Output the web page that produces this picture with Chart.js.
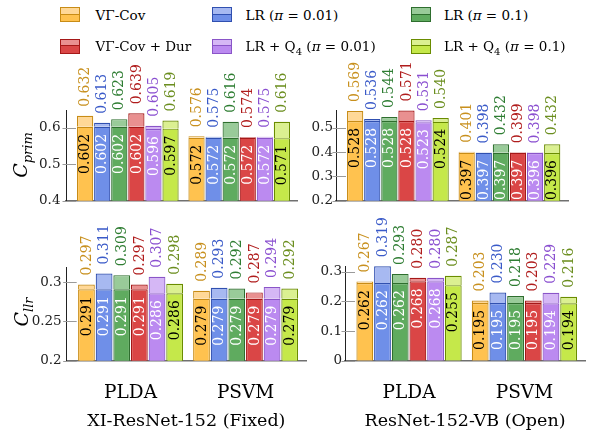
<!DOCTYPE html>
<html><head><meta charset="utf-8">
<script src="https://cdn.jsdelivr.net/npm/chart.js@4.4.1/dist/chart.umd.min.js"></script>
<style>
html,body{margin:0;padding:0;background:#fff;}
body{width:594px;height:436px;position:relative;overflow:hidden;font-family:"DejaVu Serif",serif;}
canvas{position:absolute;}
.sw{position:absolute;width:20px;height:15px;box-sizing:border-box;border:1px solid;}
.sw .t{height:50%;border-bottom:1px solid;box-sizing:border-box;}
.sw .b{height:50%;}
.lt{position:absolute;font-size:13.5px;line-height:20px;white-space:nowrap;color:#000;}
.lt sub{font-size:10px;line-height:0;}
.yt{position:absolute;transform:translate(-50%,-50%) rotate(-90deg);white-space:nowrap;font-style:italic;font-size:19px;line-height:22px;color:#000;}
.yt sub{font-size:13px;line-height:0;}
</style></head>
<body>
<canvas id="cTL"></canvas>
<canvas id="cTR"></canvas>
<canvas id="cBL"></canvas>
<canvas id="cBR"></canvas>
<div class="yt" style="left:20px;top:155px">C<sub>prim</sub></div>
<div class="yt" style="left:20.5px;top:312px">C<sub>llr</sub></div>
<div id="legend"></div>
<script>
// ---------- data ----------
const groups = ['PLDA', 'PSVM'];
const seriesNames = ['VΓ-Cov', 'LR (π = 0.01)', 'LR (π = 0.1)', 'VΓ-Cov + Dur', 'LR + Q4 (π = 0.01)', 'LR + Q4 (π = 0.1)'];
// each row: one series, [PLDA, PSVM]
const cprimFixedUpper = [[0.632,0.576],[0.613,0.575],[0.623,0.616],[0.639,0.574],[0.605,0.575],[0.619,0.616]];
const cprimFixedLower = [[0.602,0.572],[0.602,0.572],[0.602,0.572],[0.602,0.572],[0.596,0.572],[0.597,0.571]];
const cprimOpenUpper  = [[0.569,0.401],[0.536,0.398],[0.544,0.432],[0.571,0.399],[0.531,0.398],[0.540,0.432]];
const cprimOpenLower  = [[0.528,0.397],[0.528,0.397],[0.528,0.397],[0.528,0.397],[0.523,0.396],[0.524,0.396]];
const cllrFixedUpper  = [[0.297,0.289],[0.311,0.293],[0.309,0.292],[0.297,0.287],[0.307,0.294],[0.298,0.292]];
const cllrFixedLower  = [[0.291,0.279],[0.291,0.279],[0.291,0.279],[0.291,0.279],[0.286,0.279],[0.286,0.279]];
const cllrOpenUpper   = [[0.267,0.203],[0.319,0.230],[0.293,0.218],[0.280,0.203],[0.280,0.229],[0.287,0.216]];
const cllrOpenLower   = [[0.262,0.195],[0.262,0.195],[0.262,0.195],[0.268,0.195],[0.268,0.194],[0.255,0.194]];
const cprimFixedTicks = [0.4, 0.5, 0.6];
const cprimOpenTicks  = [0.2, 0.3, 0.4, 0.5];
const cllrFixedTicks  = [0.2, 0.25, 0.3];
const cllrOpenTicks   = [0, 0.1, 0.2, 0.3];
const panelTitles = ['XI-ResNet-152 (Fixed)', 'ResNet-152-VB (Open)'];

// ---------- styles ----------
const solidCol  = ['#ffc24f', '#6f8fe8', '#5fab5f', '#da4646', '#bb8af0', '#c5e84a'];
const lightCol  = ['#ffd897', '#a7b9f1', '#99cb99', '#e99090', '#d5b7f5', '#dbf091'];
const borderCol = ['#c88c16', '#3050b0', '#2e6e2e', '#a51818', '#8a55c8', '#6a8c00'];
const topLabCol = ['#c8901e', '#3a5ac8', '#2e7d32', '#b01c1c', '#8a4fd0', '#6b8e1f'];
const inLabCol  = ['#000', '#fff', '#fff', '#fff', '#fff', '#000'];

Chart.defaults.font.family = '"DejaVu Serif", serif';

// legend
(function(){
  const lg = document.getElementById('legend');
  const swX = [60, 212, 411], txX = [95.6, 245.6, 444], rowC = [14.5, 46];
  let html = '';
  for (let s = 0; s < 6; s++) {
    const r = Math.floor(s / 3), c = s % 3;
    html += '<div class="sw" style="left:' + swX[c] + 'px;top:' + (rowC[r] - 7.5) + 'px;border-color:' + borderCol[s] + '">' +
      '<div class="t" style="background:' + lightCol[s] + ';border-color:' + borderCol[s] + '"></div>' +
      '<div class="b" style="background:' + solidCol[s] + '"></div></div>';
    const name = seriesNames[s].replace('Q4', 'Q<sub>4</sub>').replace('π', '<i>π</i>');
    html += '<div class="lt" style="left:' + txX[c] + 'px;top:' + (rowC[r] - 10) + 'px">' + name + '</div>';
  }
  lg.innerHTML = html;
})();

const tickMarks = {
  id: 'tickMarks',
  beforeDatasetsDraw(chart) {
    const y = chart.scales.y, ctx = chart.ctx, x0 = chart.chartArea.left;
    ctx.save();
    ctx.strokeStyle = '#9a9a9a'; ctx.lineWidth = 1;
    y.ticks.forEach(t => {
      const py = Math.round(y.getPixelForValue(t.value)) + 0.5;
      ctx.beginPath(); ctx.moveTo(x0 - 3.5, py); ctx.lineTo(x0 + 10, py); ctx.stroke();
    });
    ctx.restore();
  }
};

function labelPlugin(upper, lower) {
  return {
    id: 'barLabels',
    afterDatasetsDraw(chart) {
      const ctx = chart.ctx, ys = chart.scales.y;
      ctx.save();
      ctx.font = '14px "DejaVu Serif"';
      ctx.textBaseline = 'middle';
      for (let s = 0; s < 6; s++) {
        const meta = chart.getDatasetMeta(2 * s);
        meta.data.forEach((bar, g) => {
          const hi = upper[s][g], lo = lower[s][g];
          const yHi = ys.getPixelForValue(hi), yLo = ys.getPixelForValue(lo);
          ctx.save();
          ctx.translate(bar.x, yHi - 9);
          ctx.rotate(-Math.PI / 2);
          ctx.textAlign = 'left';
          ctx.fillStyle = topLabCol[s];
          ctx.fillText(hi.toFixed(3), 0, 0.5);
          ctx.restore();
          ctx.save();
          ctx.translate(bar.x, yLo + 7);
          ctx.rotate(-Math.PI / 2);
          ctx.textAlign = 'right';
          ctx.fillStyle = inLabCol[s];
          ctx.fillText(lo.toFixed(3), 0, 0.5);
          ctx.restore();
        });
      }
      ctx.restore();
    }
  };
}

function makePanel(id, geo, upper, lower, ticks, o) {
  const cv = document.getElementById(id);
  cv.width = geo.w; cv.height = geo.h;
  cv.style.left = geo.x + 'px'; cv.style.top = geo.y + 'px';
  const datasets = [];
  for (let s = 0; s < 6; s++) {
    datasets.push({
      data: lower[s].map((v, g) => ({x: g, y: v})), stack: 's' + s,
      backgroundColor: solidCol[s], borderColor: borderCol[s], borderWidth: 1.2,
      clip: {left: false, right: false, top: false, bottom: 0}
    });
    datasets.push({
      data: upper[s].map((v, g) => ({x: g, y: +(v - lower[s][g]).toFixed(3)})), stack: 's' + s,
      backgroundColor: lightCol[s], borderColor: borderCol[s], borderWidth: 1.2,
      clip: {left: false, right: false, top: false, bottom: 0}
    });
  }
  new Chart(cv, {
    type: 'bar',
    data: {datasets},
    options: {
      responsive: false, animation: false, devicePixelRatio: 1,
      layout: {padding: {left: 0, top: geo.aT - geo.y, right: geo.x + geo.w - geo.aR, bottom: 0}},
      plugins: {legend: {display: false}, tooltip: {enabled: false}},
      datasets: {bar: {categoryPercentage: 0.92, barPercentage: 0.95}},
      scales: {
        x: {
          type: 'linear', min: -0.555, max: 1.525, stacked: true, offset: false,
          grid: {display: false, drawTicks: false, offset: false},
          border: {color: '#707070', width: 1.5},
          afterBuildTicks: sc => { sc.ticks = groups.map((g, i) => ({value: i})); },
          afterFit: sc => { sc.height = geo.y + geo.h - geo.aB; sc.paddingLeft = 0; sc.paddingRight = 0; },
          ticks: {display: !!o.showX, padding: 21, font: {size: 18.5}, color: '#000', callback: v => groups[v]},
          title: {display: !!o.title, text: o.title || '', font: {size: 17.5}, color: '#000', padding: {top: 0, bottom: 4}}
        },
        y: {
          type: 'linear', min: o.min, max: o.max, stacked: true,
          grid: {display: false, drawTicks: false},
          border: {color: '#222', width: 1},
          afterBuildTicks: sc => { sc.ticks = ticks.map(v => ({value: v})); },
          afterFit: sc => { sc.width = geo.aL - geo.x; sc.paddingTop = 0; sc.paddingBottom = 0; },
          ticks: {padding: o.tickPad, font: {size: 13.5}, color: '#222', callback: v => String(v)}
        }
      }
    },
    plugins: [tickMarks, labelPlugin(upper, lower)]
  });
}

makePanel('cTL', {x: 0, y: 55, w: 312, h: 150, aL: 66, aT: 110, aR: 297.7, aB: 200.7},
  cprimFixedUpper, cprimFixedLower, cprimFixedTicks, {min: 0.4, max: 0.648, tickPad: 5.5});
makePanel('cTR', {x: 305, y: 55, w: 289, h: 150, aL: 336, aT: 110, aR: 568, aB: 200.7},
  cprimOpenUpper, cprimOpenLower, cprimOpenTicks, {min: 0.2, max: 0.573, tickPad: 3});
makePanel('cBL', {x: 0, y: 210, w: 318, h: 226, aL: 66.7, aT: 267.3, aR: 306, aB: 360.7},
  cllrFixedUpper, cllrFixedLower, cllrFixedTicks, {min: 0.2, max: 0.319, tickPad: 5, showX: true, title: panelTitles[0]});
makePanel('cBR', {x: 310, y: 210, w: 284, h: 226, aL: 345, aT: 266.5, aR: 585, aB: 360.7},
  cllrOpenUpper, cllrOpenLower, cllrOpenTicks, {min: 0, max: 0.318, tickPad: 3, showX: true, title: panelTitles[1]});
</script>
</body></html>
